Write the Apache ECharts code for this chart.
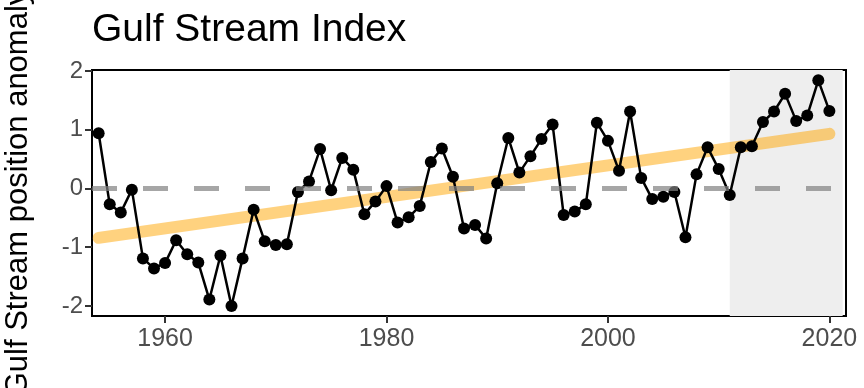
<!DOCTYPE html>
<html>
<head>
<meta charset="utf-8">
<script src="https://cdn.jsdelivr.net/npm/echarts@6/dist/echarts.min.js"></script>
<style>html,body{margin:0;padding:0;background:#fff}#c{width:864px;height:388px}</style>
</head>
<body>
<div id="c"></div>
<script>
const years = [1954,1955,1956,1957,1958,1959,1960,1961,1962,1963,1964,1965,1966,1967,1968,1969,1970,1971,1972,1973,1974,1975,1976,1977,1978,1979,1980,1981,1982,1983,1984,1985,1986,1987,1988,1989,1990,1991,1992,1993,1994,1995,1996,1997,1998,1999,2000,2001,2002,2003,2004,2005,2006,2007,2008,2009,2010,2011,2012,2013,2014,2015,2016,2017,2018,2019,2020];
const gsi = [0.94,-0.27,-0.41,-0.02,-1.19,-1.36,-1.27,-0.88,-1.12,-1.26,-1.89,-1.14,-2.00,-1.19,-0.36,-0.90,-0.96,-0.95,-0.06,0.12,0.67,-0.03,0.52,0.32,-0.44,-0.22,0.04,-0.58,-0.49,-0.30,0.45,0.68,0.20,-0.68,-0.62,-0.85,0.09,0.86,0.27,0.55,0.84,1.09,-0.45,-0.39,-0.27,1.12,0.81,0.30,1.31,0.18,-0.18,-0.14,-0.06,-0.83,0.24,0.70,0.33,-0.11,0.70,0.72,1.13,1.31,1.61,1.15,1.24,1.84,1.32];
const trendYears = [1954, 2020];
const trendValues = [-0.84, 0.93];
const shadeRange = [2011, 2021.2];
const xTicks = [1960, 1980, 2000, 2020];
const yTicks = [-2, -1, 0, 1, 2];
const titleText = 'Gulf Stream Index';
const yName = 'Gulf Stream position anomaly';

const FONT = 'Liberation Sans, Arial, sans-serif';
const chart = echarts.init(document.getElementById('c'), null, {renderer: 'canvas'});
chart.setOption({
  animation: false,
  backgroundColor: '#ffffff',
  title: {
    text: titleText, left: 92, top: 11, padding: 0,
    textStyle: {fontFamily: FONT, fontSize: 39, fontWeight: 'normal', color: '#000'}
  },
  grid: {left: 92, right: 18, top: 70, bottom: 72, show: true, borderColor: '#000', borderWidth: 2, backgroundColor: 'transparent', containLabel: false, outerBoundsMode: 'none'},
  xAxis: {
    type: 'value', min: 1953.4, max: 2021.5,
    axisLine: {show: true, onZero: false, lineStyle: {color: '#000', width: 2}},
    axisTick: {show: true, length: 7, lineStyle: {color: '#333', width: 2}, customValues: xTicks},
    axisLabel: {customValues: xTicks, fontFamily: FONT, fontSize: 25, color: '#4D4D4D', margin: 11, formatter: v => String(v)},
    splitLine: {show: false}
  },
  yAxis: {
    type: 'value', min: -2.17, max: 2.016,
    name: yName, nameLocation: 'middle', nameGap: 58,
    nameTextStyle: {fontFamily: FONT, fontSize: 31, color: '#000'},
    axisLine: {show: true, onZero: false, lineStyle: {color: '#000', width: 2}},
    axisTick: {show: true, length: 7, lineStyle: {color: '#333', width: 2}, customValues: yTicks},
    axisLabel: {customValues: yTicks, fontFamily: FONT, fontSize: 24, color: '#4D4D4D', margin: 9, formatter: v => String(v)},
    splitLine: {show: false}
  },
  series: [
    {
      type: 'line', data: [], silent: true,
      markArea: {silent: true, itemStyle: {color: '#EEEEEE'}, data: [[{xAxis: shadeRange[0]}, {xAxis: shadeRange[1]}]]},
      z: 1
    },
    {
      type: 'line', data: trendYears.map((y, i) => [y, trendValues[i]]),
      symbol: 'none', lineStyle: {color: 'rgba(255,165,0,0.5)', width: 12, cap: 'round'}, z: 2, silent: true
    },
    {
      type: 'line', data: [], silent: true,
      markLine: {silent: true, symbol: 'none', label: {show: false},
        lineStyle: {color: 'rgba(128,128,128,0.7)', width: 5, type: [25, 26]},
        data: [{yAxis: 0}]},
      z: 3
    },
    {
      type: 'line', data: years.map((y, i) => [y, gsi[i]]),
      symbol: 'circle', symbolSize: 12, itemStyle: {color: '#000'},
      lineStyle: {color: '#000', width: 2.5}, z: 4, silent: true
    }
  ]
});
</script>
</body>
</html>
